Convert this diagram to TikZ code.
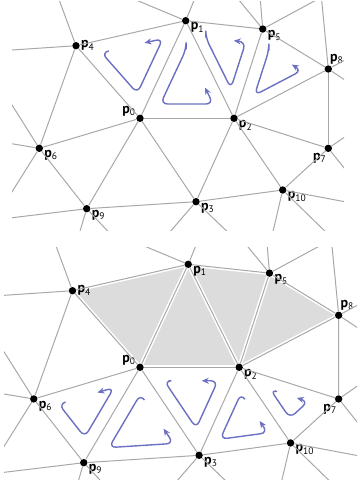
\documentclass[tikz,border=0pt]{standalone}
\usepackage{fontspec}
\setmainfont{PT Sans}
\usetikzlibrary{arrows.meta,calc,backgrounds}
\definecolor{meshgray}{HTML}{A8A8A8}
\definecolor{fillgray}{HTML}{DCDCDC}
\definecolor{spinblue}{HTML}{6B70C2}
\newcommand\pnt[1]{\textbf{p}\raisebox{-.35ex}{\fontsize{9.5}{10}\selectfont #1}}

% one mesh: vertices, inner edges, edges running out; #1 = name prefix
\newcommand\mesh[1]{
  \foreach \n/\x/\y/\a in {0/140/118.3/165, 1/185.7/20.7/-8, 2/234/118.3/-15,
      3/196/201.7/-5, 4/76/45.7/0, 5/262.7/29/-3, 6/39.3/148.3/-12,
      7/328.3/148.3/-110, 8/328.3/69/80, 9/86.7/208.7/-5, 10/282.7/190/-5}
    \node[vtx,label={[lbl]\a:\pnt{\n}}] (#1\n) at (\x,\y) {};
  \foreach \i/\j in {0/1,0/2,0/3,0/4,0/6,0/9,1/2,1/4,1/5,2/3,2/5,2/7,2/8,2/10,
      3/9,3/10,4/6,5/8,6/9,7/8,7/10}
    \draw[mline] (#1\i) -- (#1\j);
  \foreach \i/\x/\y in {4/55.5/-10, 4/-1/50.9, 6/0/86, 6/0/141.8, 6/0/211,
      9/0/219.2, 9/77.4/240, 9/116/240, 3/163/240, 3/236/240, 10/271/240,
      10/334/240, 10/360/204.6, 7/360/126.4, 7/360/187.7, 8/360/51.9,
      8/360/89.9, 8/320.7/-10, 5/230.7/-10, 5/259.5/-10, 5/334.7/-10,
      1/112/-10, 1/198.3/-10}
    \draw[mline] (#1\i) -- (\x,\y);
}

% turning arrow inside triangle #1 #2 #3, #4 = its size, #5 = hook at start
\newcommand\turn[5]{
  \coordinate (g) at ($0.3333*(#1)+0.3333*(#2)+0.3333*(#3)$);
  \coordinate (ta) at ($(g)!#4!(#1)$);
  \coordinate (tb) at ($(g)!#4!(#2)$);
  \coordinate (tc) at ($(g)!#4!(#3)$);
  \draw[spin] ($(ta)!#5!(tc)$) -- (ta) -- (tb) -- (tc) -- ($(tc)!.3!(ta)$);
}

\begin{document}
\begin{tikzpicture}[x=1pt,y=-1pt,
    vtx/.style={circle,fill=black,inner sep=0pt,minimum size=7.4pt},
    lbl/.style={inner sep=1pt,label distance=0pt,font=\fontsize{14}{16}\selectfont},
    mline/.style={meshgray,line width=1pt},
    halo/.style={white,line width=4pt},
    spin/.style={spinblue,line width=1.4pt,rounded corners=7pt,
      -{Stealth[length=7pt,width=6pt]}}]
  \useasboundingbox (0,0) rectangle (359,489);

  % upper mesh
  \begin{scope}
    \clip (12,2) rectangle (344,230);
    \mesh{t}
  \end{scope}

  % lower mesh, drawn a little larger
  \begin{scope}
    \clip (4,247) rectangle (357,479);
    \begin{scope}[shift={(140,367.3)},scale=1.055,shift={(-140,-118.3)}]
      \mesh{b}
    \end{scope}
  \end{scope}
  \begin{pgfonlayer}{background}
    \fill[fillgray] (b4.center) -- (b0.center) -- (b2.center) -- (b8.center)
      -- (b5.center) -- (b1.center) -- cycle;
    \foreach \i/\j in {4/0,4/1,0/1,0/2,1/2,1/5,2/5,2/8,5/8}
      \draw[halo] (b\i.center) -- (b\j.center);
  \end{pgfonlayer}

  % arrows
  \foreach \a/\b/\c/\s/\h in {t4/t0/t1/.56/.12, t1/t0/t2/.56/0, t1/t2/t5/.52/0,
      t5/t2/t8/.5/0, b6/b9/b0/.52/.12, b0/b9/b3/.56/.12, b0/b3/b2/.54/.08,
      b2/b3/b10/.52/.12, b2/b10/b7/.38/.12}
    {\turn{\a}{\b}{\c}{\s}{\h}}
\end{tikzpicture}
\end{document}
